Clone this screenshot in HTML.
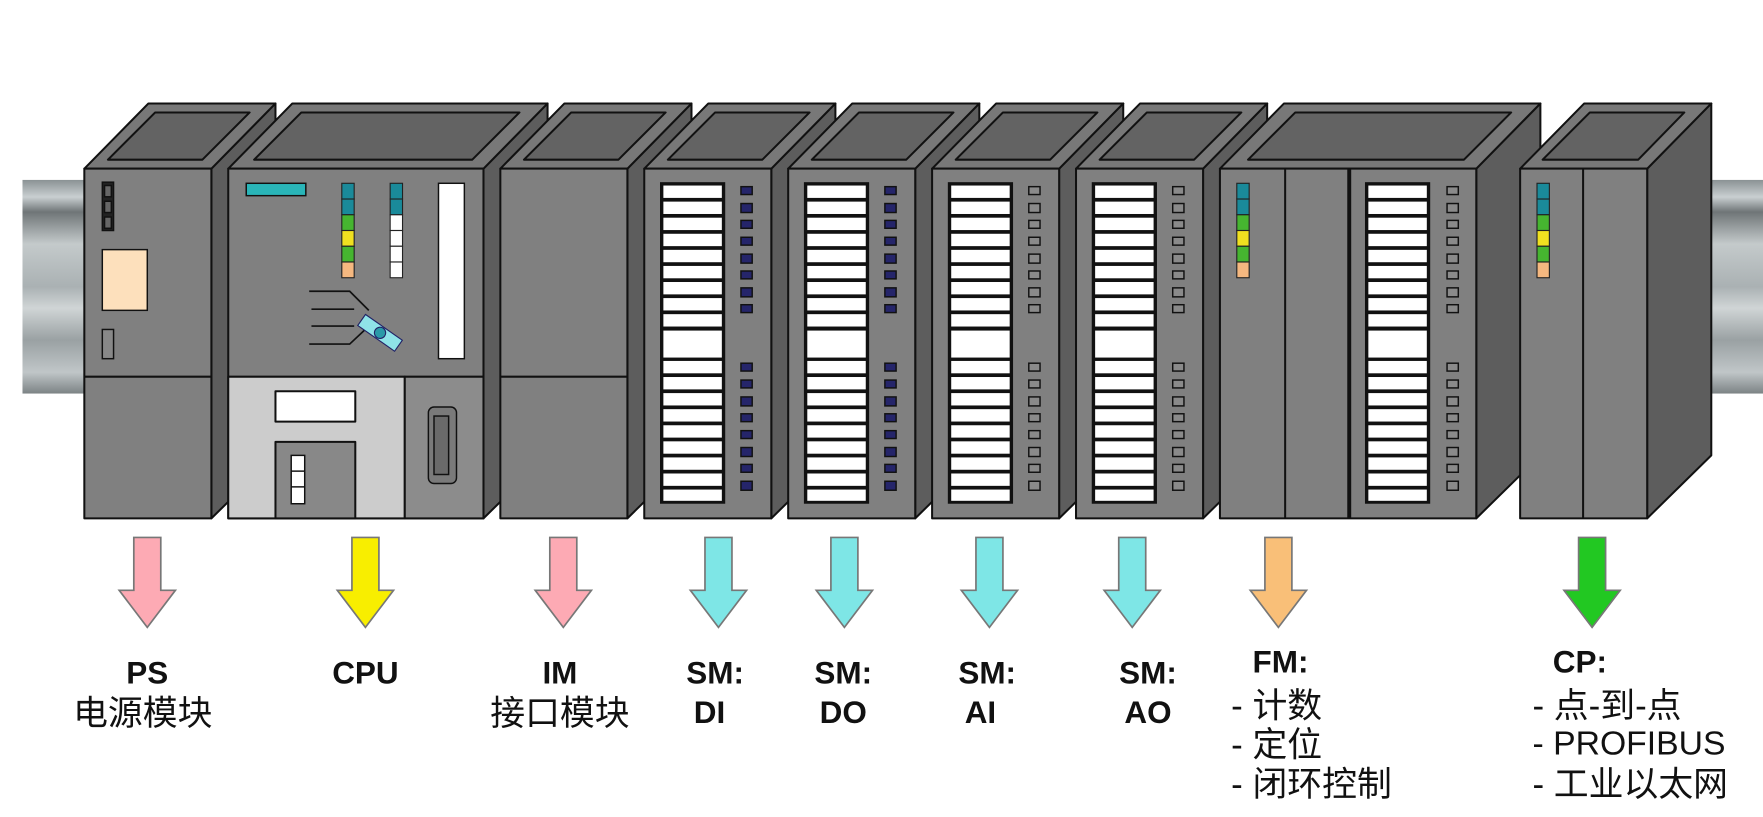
<!DOCTYPE html>
<html><head><meta charset="utf-8"><style>
html,body{margin:0;padding:0;background:#fff}
svg{display:block}
text{font-family:"Liberation Sans","Noto Sans CJK SC",sans-serif;fill:#111}
</style></head><body>
<svg width="1763" height="817" viewBox="0 0 1568 726.6" xmlns="http://www.w3.org/2000/svg">
<defs>
<linearGradient id="rail" x1="0" y1="0" x2="0" y2="1">
<stop offset="0" stop-color="#8a9294"/><stop offset="0.08" stop-color="#c9cfd1"/><stop offset="0.15" stop-color="#6f7577"/>
<stop offset="0.3" stop-color="#c4cacb"/><stop offset="0.5" stop-color="#aab1b3"/><stop offset="0.6" stop-color="#d0d5d6"/>
<stop offset="0.75" stop-color="#9aa1a3"/><stop offset="0.9" stop-color="#c0c6c8"/><stop offset="1" stop-color="#7c8385"/>
</linearGradient>
<g id="strip">
<rect x="0" y="162" width="58" height="286" fill="#111"/>
<g fill="#fff">
<rect x="3" y="165" width="52" height="11"/><rect x="3" y="179.3" width="52" height="11"/><rect x="3" y="193.6" width="52" height="11"/>
<rect x="3" y="207.9" width="52" height="11"/><rect x="3" y="222.2" width="52" height="11"/><rect x="3" y="236.5" width="52" height="11"/>
<rect x="3" y="250.8" width="52" height="11"/><rect x="3" y="265.1" width="52" height="11"/><rect x="3" y="279.4" width="52" height="11"/>
<rect x="3" y="294" width="52" height="24"/>
<rect x="3" y="321" width="52" height="11"/><rect x="3" y="335.3" width="52" height="11"/><rect x="3" y="349.6" width="52" height="11"/>
<rect x="3" y="363.9" width="52" height="11"/><rect x="3" y="378.2" width="52" height="11"/><rect x="3" y="392.5" width="52" height="11"/>
<rect x="3" y="406.8" width="52" height="11"/><rect x="3" y="421.1" width="52" height="11"/><rect x="3" y="435.4" width="52" height="10"/>
</g></g>
<g id="leds" stroke="#111" stroke-width="1.3">
<rect x="0" y="166" width="10" height="7"/><rect x="0" y="181" width="10" height="8"/><rect x="0" y="196" width="10" height="7"/>
<rect x="0" y="211" width="10" height="7"/><rect x="0" y="226" width="10" height="8"/><rect x="0" y="241" width="10" height="7"/>
<rect x="0" y="256" width="10" height="8"/><rect x="0" y="271" width="10" height="7"/>
<rect x="0" y="323" width="10" height="7"/><rect x="0" y="338" width="10" height="7"/><rect x="0" y="353" width="10" height="8"/>
<rect x="0" y="368" width="10" height="7"/><rect x="0" y="383" width="10" height="7"/><rect x="0" y="398" width="10" height="8"/>
<rect x="0" y="413" width="10" height="7"/><rect x="0" y="428" width="10" height="8"/>
</g>
<g id="stat" stroke="#222" stroke-width="1">
<rect x="0" y="163" width="11" height="14" fill="#1a8a9a"/><rect x="0" y="177" width="11" height="14" fill="#1a8a9a"/>
<rect x="0" y="191" width="11" height="14" fill="#46b530"/><rect x="0" y="205" width="11" height="14" fill="#f0e020"/>
<rect x="0" y="219" width="11" height="14" fill="#46b530"/><rect x="0" y="233" width="11" height="14" fill="#f5b880"/>
</g>
</defs>
<rect width="1568" height="727" fill="#fff"/>
<rect x="20" y="160" width="1548" height="190" fill="url(#rail)"/>

<g stroke="#111" stroke-width="1.8" stroke-linejoin="round">
<polygon points="188,150 245,92 245,405 188,461" fill="#5d5d5d"/>
<polygon points="75,150 188,150 245,92 132,92" fill="#787878"/>
<polygon points="96,142 180,142 222,100 138,100" fill="#636363"/>
<rect x="75" y="150" width="113" height="311" fill="#808080"/>
<line x1="75" y1="335" x2="188" y2="335"/>
<polygon points="430,150 487,92 487,405 430,461" fill="#5d5d5d"/>
<polygon points="203,150 430,150 487,92 260,92" fill="#787878"/>
<polygon points="226,142 420,142 462,100 268,100" fill="#636363"/>
<rect x="203" y="150" width="227" height="311" fill="#808080"/>
<rect x="203" y="335" width="157" height="126" fill="#cccccc"/>
<rect x="360" y="335" width="70" height="126" fill="#8c8c8c"/>
<rect x="245" y="348" width="71" height="27" fill="#fff"/>
<rect x="245" y="393" width="71" height="68" fill="#888"/>
<polygon points="558,150 615,92 615,405 558,461" fill="#5d5d5d"/>
<polygon points="445,150 558,150 615,92 502,92" fill="#787878"/>
<polygon points="466,142 550,142 592,100 508,100" fill="#636363"/>
<rect x="445" y="150" width="113" height="311" fill="#808080"/>
<line x1="445" y1="335" x2="558" y2="335"/>
<polygon points="686,150 743,92 743,405 686,461" fill="#5d5d5d"/>
<polygon points="573,150 686,150 743,92 630,92" fill="#787878"/>
<polygon points="594,142 678,142 720,100 636,100" fill="#636363"/>
<rect x="573" y="150" width="113" height="311" fill="#808080"/>
<polygon points="814,150 871,92 871,405 814,461" fill="#5d5d5d"/>
<polygon points="701,150 814,150 871,92 758,92" fill="#787878"/>
<polygon points="722,142 806,142 848,100 764,100" fill="#636363"/>
<rect x="701" y="150" width="113" height="311" fill="#808080"/>
<polygon points="942,150 999,92 999,405 942,461" fill="#5d5d5d"/>
<polygon points="829,150 942,150 999,92 886,92" fill="#787878"/>
<polygon points="850,142 934,142 976,100 892,100" fill="#636363"/>
<rect x="829" y="150" width="113" height="311" fill="#808080"/>
<polygon points="1070,150 1127,92 1127,405 1070,461" fill="#5d5d5d"/>
<polygon points="957,150 1070,150 1127,92 1014,92" fill="#787878"/>
<polygon points="978,142 1062,142 1104,100 1020,100" fill="#636363"/>
<rect x="957" y="150" width="113" height="311" fill="#808080"/>
<polygon points="1313,150 1370,92 1370,405 1313,461" fill="#5d5d5d"/>
<polygon points="1085,150 1313,150 1370,92 1142,92" fill="#787878"/>
<polygon points="1110,142 1302,142 1344,100 1152,100" fill="#636363"/>
<rect x="1085" y="150" width="228" height="311" fill="#808080"/>
<line x1="1143" y1="150" x2="1143" y2="461"/>
<line x1="1200" y1="150" x2="1200" y2="461" stroke-width="3.5"/>
<polygon points="1465,150 1522,92 1522,405 1465,461" fill="#5d5d5d"/>
<polygon points="1352,150 1465,150 1522,92 1409,92" fill="#787878"/>
<polygon points="1372,142 1457,142 1498,100 1414,100" fill="#636363"/>
<rect x="1352" y="150" width="113" height="311" fill="#808080"/>
<line x1="1408" y1="150" x2="1408" y2="461"/>
</g>

<g stroke="#111" stroke-width="1.3">
<rect x="91" y="162" width="10" height="43" fill="#222"/>
<rect x="93" y="165" width="6" height="10" fill="#666"/><rect x="93" y="179" width="6" height="10" fill="#666"/><rect x="93" y="193" width="6" height="10" fill="#666"/>
<rect x="91" y="222" width="40" height="54" fill="#fde0bc"/>
<rect x="91" y="293" width="10" height="26" fill="#888"/>
<rect x="219" y="163" width="53" height="11" fill="#2ab5b8"/>
<rect x="390" y="163" width="23" height="156" fill="#fff"/>
<rect x="381" y="362" width="25" height="68" rx="5" fill="#7a7a7a"/>
<rect x="386" y="370" width="13" height="52" fill="#6a6a6a"/>
<rect x="259" y="405" width="12" height="43" fill="#fff"/>
<line x1="259" y1="419" x2="271" y2="419"/><line x1="259" y1="433" x2="271" y2="433"/>
</g>
<use href="#stat" x="304"/>
<g stroke="#222" stroke-width="1">
<rect x="347" y="163" width="11" height="14" fill="#1a8a9a"/><rect x="347" y="177" width="11" height="14" fill="#1a8a9a"/>
<rect x="347" y="191" width="11" height="14" fill="#fff"/><rect x="347" y="205" width="11" height="14" fill="#fff"/>
<rect x="347" y="219" width="11" height="14" fill="#fff"/><rect x="347" y="233" width="11" height="14" fill="#fff"/>
</g>
<g stroke="#111" stroke-width="1.5" fill="none">
<polyline points="275,259 311,259 328,276"/>
<line x1="277" y1="275" x2="315" y2="275"/>
<line x1="277" y1="290" x2="315" y2="290"/>
<polyline points="275,306 311,306 328,290"/>
</g>
<g transform="rotate(35 338 296)" stroke="#226" stroke-width="1">
<rect x="318" y="290" width="40" height="12" fill="#8fe3e8"/>
<circle cx="338" cy="296" r="5" fill="#2a9aa8"/>
</g>

<use href="#strip" x="587"/><use href="#leds" x="659" fill="#25256a"/>
<use href="#strip" x="715"/><use href="#leds" x="787" fill="#25256a"/>
<use href="#strip" x="843"/><use href="#leds" x="915" fill="#8a8a8a"/>
<use href="#strip" x="971"/><use href="#leds" x="1043" fill="#8a8a8a"/>
<use href="#strip" x="1214"/><use href="#leds" x="1287" fill="#8a8a8a"/>
<use href="#stat" x="1100"/>
<use href="#stat" x="1367"/>

<g stroke="#777" stroke-width="1.5" stroke-linejoin="miter">
<polygon transform="translate(131 0)" points="-12,478 12,478 12,525 25,525 0,558 -25,525 -12,525" fill="#fdaab4"/>
<polygon transform="translate(325 0)" points="-12,478 12,478 12,525 25,525 0,558 -25,525 -12,525" fill="#f8ee00"/>
<polygon transform="translate(501 0)" points="-12,478 12,478 12,525 25,525 0,558 -25,525 -12,525" fill="#fdaab4"/>
<polygon transform="translate(639 0)" points="-12,478 12,478 12,525 25,525 0,558 -25,525 -12,525" fill="#7ee6e6"/>
<polygon transform="translate(751 0)" points="-12,478 12,478 12,525 25,525 0,558 -25,525 -12,525" fill="#7ee6e6"/>
<polygon transform="translate(880 0)" points="-12,478 12,478 12,525 25,525 0,558 -25,525 -12,525" fill="#7ee6e6"/>
<polygon transform="translate(1007 0)" points="-12,478 12,478 12,525 25,525 0,558 -25,525 -12,525" fill="#7ee6e6"/>
<polygon transform="translate(1137 0)" points="-12,478 12,478 12,525 25,525 0,558 -25,525 -12,525" fill="#f9bf78"/>
<polygon transform="translate(1416 0)" points="-12,478 12,478 12,525 25,525 0,558 -25,525 -12,525" fill="#22c822"/>
</g>

<g text-anchor="middle">
<text x="131" y="608" font-size="28" font-weight="bold">PS</text>
<text x="127" y="645" font-size="31">电源模块</text>
<text x="325" y="608" font-size="28" font-weight="bold">CPU</text>
<text x="498" y="608" font-size="28" font-weight="bold">IM</text>
<text x="498" y="645" font-size="31">接口模块</text>
<text x="636" y="608" font-size="28" font-weight="bold">SM:</text>
<text x="631" y="643" font-size="28" font-weight="bold">DI</text>
<text x="750" y="608" font-size="28" font-weight="bold">SM:</text>
<text x="750" y="643" font-size="28" font-weight="bold">DO</text>
<text x="878" y="608" font-size="28" font-weight="bold">SM:</text>
<text x="872" y="643" font-size="28" font-weight="bold">AI</text>
<text x="1021" y="608" font-size="28" font-weight="bold">SM:</text>
<text x="1021" y="643" font-size="28" font-weight="bold">AO</text>
</g>
<g font-size="31">
<text x="1114" y="598" font-size="28" font-weight="bold">FM:</text>
<text x="1095" y="638">- 计数</text>
<text x="1095" y="673">- 定位</text>
<text x="1095" y="708">- 闭环控制</text>
<text x="1381" y="598" font-size="28" font-weight="bold">CP:</text>
<text x="1363" y="638">- 点-到-点</text>
<text x="1363" y="671" font-size="30">- PROFIBUS</text>
<text x="1363" y="708">- 工业以太网</text>
</g>
</svg>
</body></html>
